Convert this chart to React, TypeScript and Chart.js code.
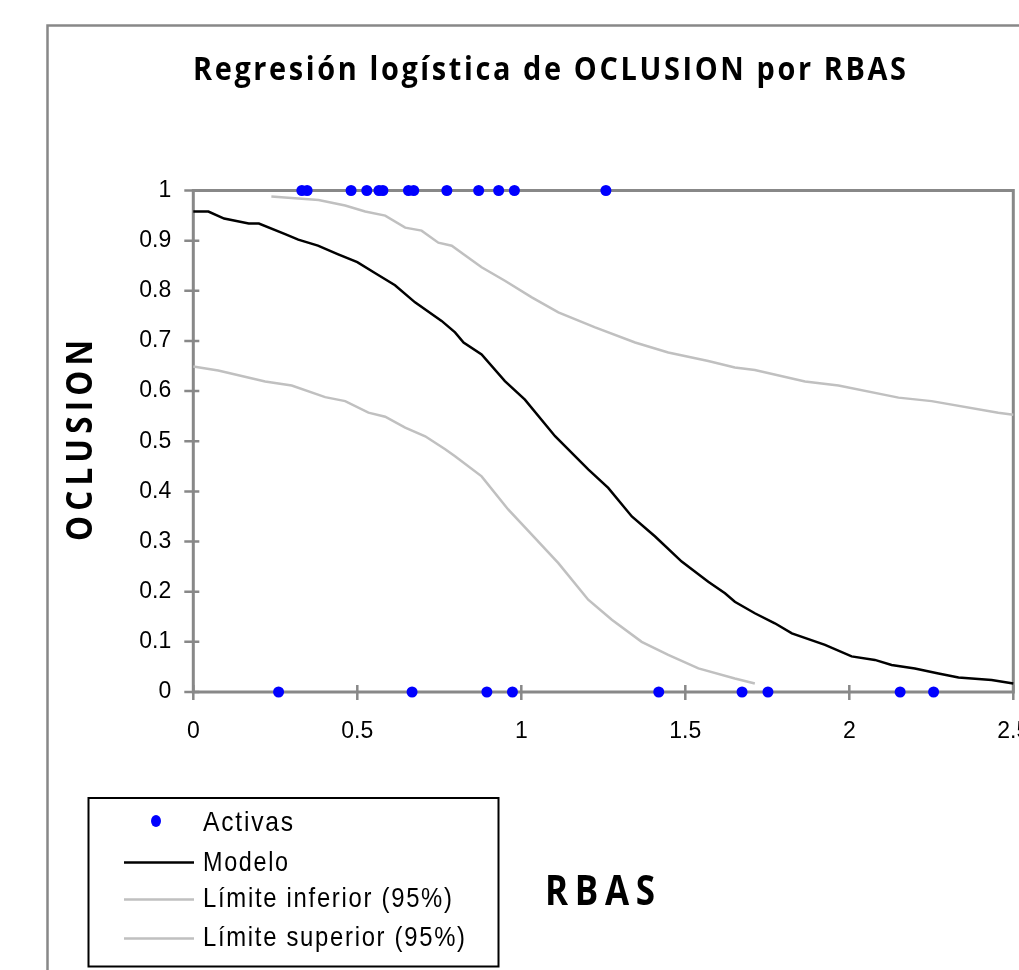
import React, { useEffect, useRef } from 'react';
import { Chart, registerables } from 'chart.js';

Chart.register(...registerables);

// ---- data ----
const activasX1: number[] = [0.331, 0.347, 0.481, 0.529, 0.566, 0.578, 0.656, 0.672, 0.773, 0.870, 0.931, 0.979, 1.258];
const activasX0: number[] = [0.260, 0.667, 0.895, 0.973, 1.419, 1.673, 1.752, 2.155, 2.257];

const modeloX: number[] = [0, 0.046, 0.094, 0.169, 0.20, 0.28, 0.32, 0.38, 0.44, 0.50, 0.555, 0.615, 0.676, 0.757, 0.798, 0.824, 0.879, 0.950, 1.011, 1.103, 1.204, 1.265, 1.337, 1.408, 1.489, 1.570, 1.621, 1.651, 1.712, 1.773, 1.825, 1.926, 2.007, 2.078, 2.129, 2.200, 2.272, 2.333, 2.434, 2.5];
const modeloY: number[] = [0.958, 0.958, 0.944, 0.934, 0.934, 0.913, 0.902, 0.890, 0.873, 0.857, 0.835, 0.811, 0.777, 0.740, 0.717, 0.697, 0.673, 0.620, 0.583, 0.510, 0.444, 0.407, 0.350, 0.310, 0.260, 0.220, 0.197, 0.180, 0.157, 0.137, 0.117, 0.094, 0.071, 0.064, 0.054, 0.047, 0.037, 0.029, 0.024, 0.017];

const inferiorX: number[] = [0, 0.076, 0.219, 0.300, 0.402, 0.463, 0.534, 0.585, 0.646, 0.707, 0.768, 0.798, 0.879, 0.960, 1.032, 1.113, 1.204, 1.276, 1.367, 1.448, 1.540, 1.651, 1.712];
const inferiorY: number[] = [0.649, 0.641, 0.619, 0.611, 0.588, 0.580, 0.557, 0.549, 0.527, 0.510, 0.484, 0.470, 0.430, 0.364, 0.314, 0.257, 0.184, 0.144, 0.100, 0.074, 0.047, 0.027, 0.017];

const superiorX: number[] = [0.238, 0.382, 0.463, 0.524, 0.585, 0.646, 0.696, 0.747, 0.788, 0.824, 0.879, 0.950, 1.032, 1.113, 1.225, 1.347, 1.448, 1.570, 1.651, 1.712, 1.865, 1.967, 2.150, 2.251, 2.454, 2.5];
const superiorY: number[] = [0.988, 0.981, 0.970, 0.958, 0.950, 0.926, 0.920, 0.896, 0.890, 0.873, 0.847, 0.820, 0.787, 0.757, 0.727, 0.697, 0.677, 0.660, 0.647, 0.642, 0.619, 0.611, 0.587, 0.580, 0.557, 0.553];

const xTicks: number[] = [0, 0.5, 1, 1.5, 2, 2.5];
const yTicks: number[] = [0, 0.1, 0.2, 0.3, 0.4, 0.5, 0.6, 0.7, 0.8, 0.9, 1];

const titleText = 'Regresión logística de OCLUSION por RBAS';
const xTitleText = 'RBAS';
const yTitleText = 'OCLUSION';
const legendLabels: string[] = ['Activas', 'Modelo', 'Límite inferior (95%)', 'Límite superior (95%)'];

// ---- styles ----
const GRAY = '#888888';
const BLUE = '#0000FF';
const LIMIT = '#C0C0C0';

function drawFit(
  ctx: CanvasRenderingContext2D,
  text: string,
  font: string,
  x: number,
  y: number,
  width: number,
  spacing: number,
  align: 'left' | 'center',
  rotate = 0
) {
  ctx.save();
  ctx.font = font;
  (ctx as any).letterSpacing = spacing + 'px';
  ctx.textAlign = 'left';
  ctx.textBaseline = 'alphabetic';
  const w = ctx.measureText(text).width - spacing;
  const sx = width / w;
  ctx.translate(x, y);
  if (rotate) ctx.rotate(rotate);
  ctx.scale(sx, 1);
  ctx.fillStyle = '#000';
  ctx.fillText(text, align === 'center' ? -w / 2 : 0, 0);
  ctx.restore();
}

const decor = {
  id: 'decor',
  beforeDraw(chart: any) {
    const ctx: CanvasRenderingContext2D = chart.ctx;
    ctx.save();
    ctx.fillStyle = '#fff';
    ctx.fillRect(0, 0, chart.width, chart.height);
    ctx.strokeStyle = GRAY;
    ctx.lineWidth = 2.5;
    ctx.strokeRect(47.5, 25.5, 3000, 3000);
    ctx.restore();
  },
  beforeDatasetsDraw(chart: any) {
    const ctx: CanvasRenderingContext2D = chart.ctx;
    const a = chart.chartArea;
    const xs = chart.scales.x;
    const ys = chart.scales.y;
    ctx.save();
    ctx.strokeStyle = GRAY;
    ctx.lineWidth = 3;
    ctx.beginPath();
    ctx.rect(a.left, a.top, a.right - a.left, a.bottom - a.top);
    ctx.stroke();
    ctx.lineWidth = 2.5;
    ctx.beginPath();
    for (const v of xTicks) {
      const px = xs.getPixelForValue(v);
      ctx.moveTo(px, a.bottom - 7);
      ctx.lineTo(px, a.bottom + 8);
    }
    for (const v of yTicks) {
      const py = ys.getPixelForValue(v);
      ctx.moveTo(a.left - 9, py);
      ctx.lineTo(a.left + 6, py);
    }
    ctx.stroke();
    ctx.restore();
  },
  afterDraw(chart: any) {
    const ctx: CanvasRenderingContext2D = chart.ctx;
    // titles
    drawFit(ctx, titleText, 'bold 33px "Open Sans"', 549.5, 80, 713, 3, 'center');
    drawFit(ctx, xTitleText, 'bold 42px "Open Sans"', 600, 905, 110, 8, 'center');
    drawFit(ctx, yTitleText, 'bold 36px "Open Sans"', 92, 440.5, 201, 6, 'center', -Math.PI / 2);

    // legend box
    ctx.save();
    ctx.strokeStyle = '#000';
    ctx.lineWidth = 2;
    ctx.strokeRect(88.5, 798, 410, 168.5);
    // markers
    ctx.fillStyle = BLUE;
    ctx.beginPath();
    ctx.ellipse(156, 821, 5, 6, 0, 0, Math.PI * 2);
    ctx.fill();
    ctx.lineWidth = 2.5;
    ctx.strokeStyle = '#000';
    ctx.beginPath();
    ctx.moveTo(124, 862.5);
    ctx.lineTo(194, 862.5);
    ctx.stroke();
    ctx.strokeStyle = LIMIT;
    ctx.beginPath();
    ctx.moveTo(124, 899.5);
    ctx.lineTo(194, 899.5);
    ctx.moveTo(124, 938.5);
    ctx.lineTo(194, 938.5);
    ctx.stroke();
    ctx.restore();

    const lf = '28px "Liberation Sans Narrow", "Liberation Sans"';
    const widths = [90, 85, 249, 262];
    const baselines = [831, 870.5, 907, 946];
    legendLabels.forEach((t, i) => drawFit(ctx, t, lf, 203, baselines[i], widths[i], 2, 'left'));
  },
};

export default function App() {
  const ref = useRef<HTMLCanvasElement | null>(null);

  useEffect(() => {
    if (!ref.current) return;
    const activas = [
      ...activasX1.map((x) => ({ x, y: 1 })),
      ...activasX0.map((x) => ({ x, y: 0 })),
    ];
    const modelo = modeloX.map((x, i) => ({ x, y: modeloY[i] }));
    const inferior = inferiorX.map((x, i) => ({ x, y: inferiorY[i] }));
    const superior = superiorX.map((x, i) => ({ x, y: superiorY[i] }));

    const chart = new Chart(ref.current, {
      type: 'scatter',
      data: {
        datasets: [
          {
            label: legendLabels[0],
            data: activas,
            pointStyle: 'circle',
            pointRadius: 5.5,
            pointBackgroundColor: BLUE,
            pointBorderColor: BLUE,
            pointBorderWidth: 0,
            showLine: false,
            clip: false as any,
          },
          {
            label: legendLabels[1],
            data: modelo,
            showLine: true,
            pointRadius: 0,
            borderColor: '#000',
            borderWidth: 2.5,
            tension: 0,
            clip: false as any,
          },
          {
            label: legendLabels[2],
            data: inferior,
            showLine: true,
            pointRadius: 0,
            borderColor: LIMIT,
            borderWidth: 2.5,
            tension: 0,
            clip: false as any,
          },
          {
            label: legendLabels[3],
            data: superior,
            showLine: true,
            pointRadius: 0,
            borderColor: LIMIT,
            borderWidth: 2.5,
            tension: 0,
            clip: false as any,
          },
        ],
      },
      options: {
        animation: false,
        responsive: false,
        devicePixelRatio: 1,
        events: [],
        layout: { padding: { left: 0, top: 190.5, right: 5.7, bottom: 0 } },
        plugins: {
          legend: { display: false },
          title: { display: false },
          tooltip: { enabled: false },
        },
        scales: {
          x: {
            type: 'linear',
            min: 0,
            max: 2.5,
            grid: { display: false, drawTicks: false },
            border: { display: false },
            afterBuildTicks: (s: any) => {
              s.ticks = xTicks.map((v) => ({ value: v }));
            },
            afterFit: (s: any) => {
              s.height = 278;
              s.paddingLeft = 0;
              s.paddingRight = 0;
            },
            ticks: {
              padding: 26,
              color: '#000',
              font: { family: '"Liberation Sans", Arial', size: 23 },
              maxRotation: 0,
              autoSkip: false,
              callback: (v: any) => String(v),
            },
          },
          y: {
            type: 'linear',
            min: 0,
            max: 1,
            grid: { display: false, drawTicks: false },
            border: { display: false },
            afterBuildTicks: (s: any) => {
              s.ticks = yTicks.map((v) => ({ value: v }));
            },
            afterFit: (s: any) => {
              s.width = 193.3;
              s.paddingTop = 0;
              s.paddingBottom = 0;
            },
            ticks: {
              padding: 22,
              color: '#000',
              font: { family: '"Liberation Sans", Arial', size: 23 },
              autoSkip: false,
              callback: (v: any) => String(v),
            },
          },
        },
      },
      plugins: [decor],
    });
    return () => chart.destroy();
  }, []);

  return (
    <div style={{ position: 'fixed', left: 0, top: 0, width: 1019, height: 970, overflow: 'hidden', background: '#fff' }}>
      <canvas ref={ref} width={1019} height={970} style={{ display: 'block', width: 1019, height: 970 }} />
    </div>
  );
}
